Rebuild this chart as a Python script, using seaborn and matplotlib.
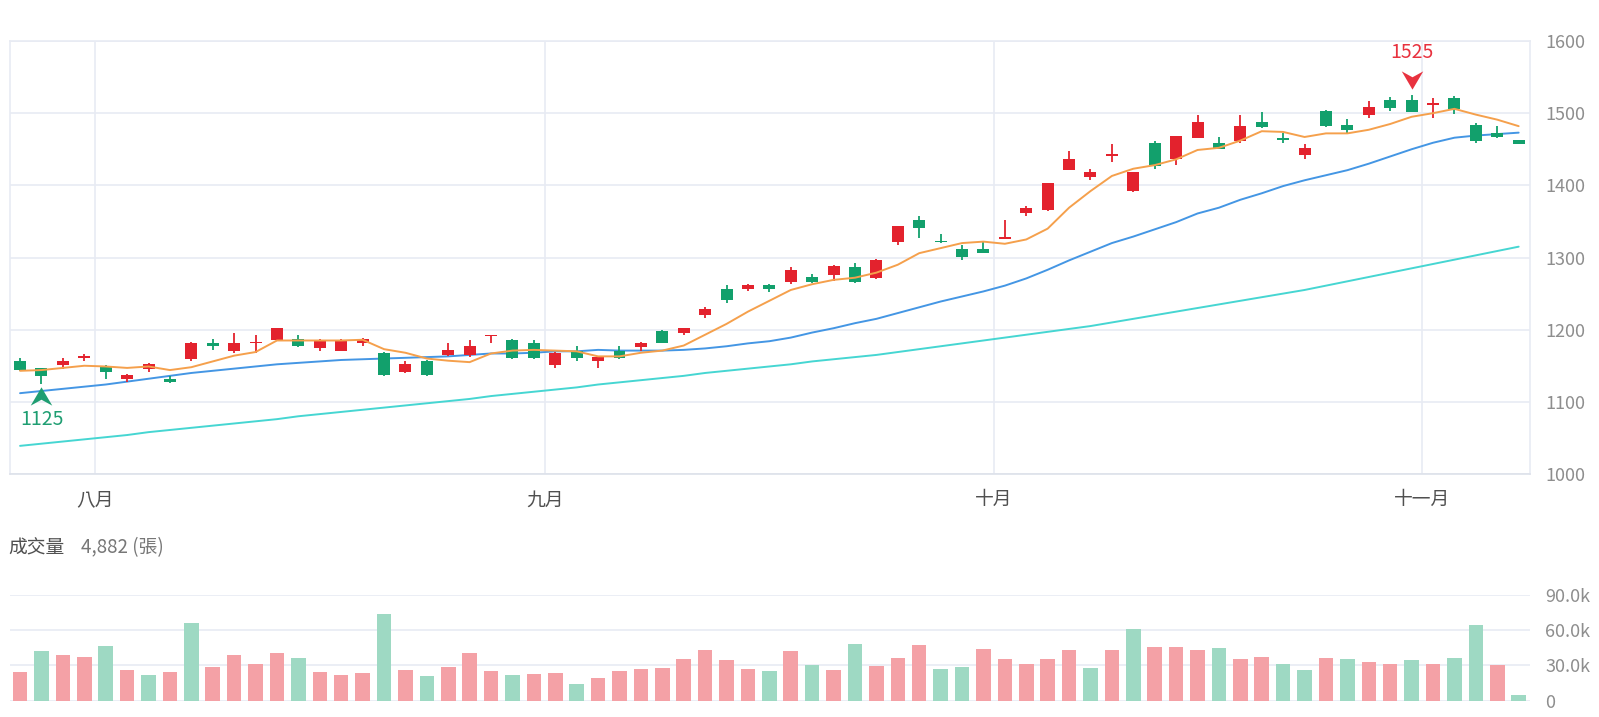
import numpy as np
import pandas as pd
import matplotlib
matplotlib.use('Agg')
import matplotlib.pyplot as plt
import matplotlib.transforms as mtransforms
from matplotlib.path import Path
import seaborn as sns

# daily candles, 71 sessions (late July -> early November)
opens = [1157, 1147, 1151, 1161, 1148, 1131, 1145, 1132, 1159, 1182, 1170, 1181, 1186, 1187, 1175, 1171,
         1181, 1168, 1141, 1157, 1165, 1165, 1191, 1186, 1182, 1151, 1171, 1156, 1171, 1176, 1198, 1196,
         1220, 1257, 1257, 1262, 1266, 1273, 1276, 1287, 1271, 1321, 1352, 1322, 1312, 1312, 1326, 1362,
         1366, 1421, 1411, 1441, 1392, 1458, 1436, 1466, 1458, 1462, 1488, 1465, 1442, 1503, 1483, 1497,
         1518, 1518, 1512, 1521, 1483, 1473, 1463]
highs = [1161, 1147, 1161, 1166, 1151, 1138, 1154, 1136, 1183, 1187, 1196, 1192, 1203, 1192, 1187, 1187,
         1188, 1169, 1156, 1158, 1182, 1186, 1193, 1187, 1186, 1169, 1177, 1163, 1177, 1183, 1199, 1203,
         1232, 1262, 1263, 1263, 1287, 1277, 1289, 1293, 1298, 1344, 1357, 1332, 1317, 1323, 1352, 1372,
         1403, 1448, 1422, 1457, 1419, 1462, 1469, 1497, 1467, 1497, 1502, 1472, 1457, 1504, 1492, 1517,
         1522, 1525, 1521, 1524, 1487, 1482, 1463]
lows = [1143, 1125, 1146, 1156, 1132, 1127, 1142, 1126, 1156, 1172, 1167, 1168, 1185, 1176, 1171, 1170,
        1177, 1136, 1140, 1136, 1163, 1162, 1182, 1160, 1160, 1147, 1156, 1147, 1160, 1171, 1181, 1192,
        1216, 1237, 1253, 1252, 1263, 1265, 1267, 1265, 1270, 1317, 1327, 1320, 1297, 1306, 1325, 1357,
        1365, 1421, 1407, 1432, 1391, 1422, 1428, 1465, 1450, 1458, 1480, 1458, 1437, 1481, 1472, 1493,
        1503, 1501, 1493, 1499, 1458, 1466, 1457]
closes = [1144, 1136, 1157, 1162, 1141, 1137, 1152, 1127, 1182, 1177, 1182, 1182, 1202, 1177, 1184, 1184,
          1187, 1137, 1153, 1137, 1172, 1178, 1192, 1161, 1161, 1168, 1161, 1162, 1161, 1182, 1182, 1202,
          1228, 1241, 1262, 1257, 1283, 1266, 1288, 1266, 1297, 1343, 1341, 1321, 1301, 1306, 1328, 1368,
          1403, 1437, 1418, 1443, 1418, 1427, 1468, 1488, 1451, 1482, 1481, 1463, 1452, 1482, 1476, 1508,
          1507, 1502, 1513, 1506, 1462, 1467, 1457]

# moving averages as drawn (5 / 20 / 60 day)
ma5 = [1143, 1144, 1147, 1150, 1149, 1147, 1149, 1144, 1148, 1156, 1164, 1169, 1185, 1185, 1185, 1185,
       1186, 1173, 1168, 1160, 1157, 1155, 1167, 1171, 1172, 1171, 1170, 1163, 1163, 1168, 1171, 1178,
       1193, 1208, 1225, 1240, 1255, 1263, 1269, 1272, 1279, 1290, 1306, 1313, 1320, 1322, 1319, 1325,
       1340, 1369, 1392, 1413, 1423, 1428, 1436, 1449, 1452, 1462, 1475, 1474, 1467, 1472, 1472, 1477,
       1485, 1495, 1500, 1506, 1498, 1491, 1482]
ma20 = [1112, 1115, 1118, 1121, 1124, 1128, 1132, 1136, 1140, 1143, 1146, 1149, 1152, 1154, 1156, 1158,
        1159, 1160, 1161, 1162, 1163, 1165, 1167, 1167, 1168, 1170, 1170, 1172, 1171, 1171, 1171, 1172,
        1174, 1177, 1181, 1184, 1189, 1196, 1202, 1209, 1215, 1223, 1231, 1239, 1246, 1253, 1261, 1271,
        1283, 1296, 1308, 1320, 1329, 1339, 1349, 1361, 1369, 1380, 1389, 1399, 1407, 1414, 1421, 1430,
        1440, 1450, 1459, 1466, 1469, 1471, 1473]
ma60 = [1039, 1042, 1045, 1048, 1051, 1054, 1058, 1061, 1064, 1067, 1070, 1073, 1076, 1080, 1083, 1086,
        1089, 1092, 1095, 1098, 1101, 1104, 1108, 1111, 1114, 1117, 1120, 1124, 1127, 1130, 1133, 1136,
        1140, 1143, 1146, 1149, 1152, 1156, 1159, 1162, 1165, 1169, 1173, 1177, 1181, 1185, 1189, 1193,
        1197, 1201, 1205, 1210, 1215, 1220, 1225, 1230, 1235, 1240, 1245, 1250, 1255, 1261, 1267, 1273,
        1279, 1285, 1291, 1297, 1303, 1309, 1315]

# volume (張) and its colour direction vs previous close
volume = [23800, 42300, 38300, 36600, 46000, 26100, 21300, 24400, 65900, 28100, 38300, 31000, 40300, 36000,
          24100, 21900, 23300, 73800, 25800, 21000, 28100, 40000, 24700, 21900, 22400, 23500, 14000, 19000,
          25000, 27000, 28000, 35000, 42600, 34000, 27000, 25000, 41700, 30400, 26000, 48000, 29500, 36500,
          47000, 27000, 28700, 44000, 35600, 31300, 34900, 42900, 28000, 42900, 60600, 45100, 45700, 42900,
          44300, 35100, 37100, 30600, 26300, 36300, 35100, 32900, 30600, 34000, 30900, 36300, 63700, 30300,
          4882]
vol_dir = list('umuumumumuuuumuuumumuuumu'
               'umuuuuuuuumumumuuummuuu'
               'uumumuuumuummumuumummum')

month_labels = ['八月', '九月', '十月', '十一月']
month_first_idx = [4, 25, 46, 66]

RED, GREEN = '#e3222d', '#12a06c'
PINK, MINT = '#f4a1a6', '#9ed9c3'
GRID = '#e8ebf3'
TXT = '#8e8e8e'

sns.set_theme(style='white')
plt.rcParams['font.family'] = ['Noto Sans CJK TC', 'DejaVu Sans']

W, H = 1599, 717
fig = plt.figure(figsize=(W / 100, H / 100), dpi=100)
ax = fig.add_axes([10 / W, 1 - 474 / H, 1520 / W, 433 / H])
axv = fig.add_axes([10 / W, 1 - 700.5 / H, 1520 / W, 106 / H])

df = pd.DataFrame({'idx': np.arange(len(closes)), 'open': opens, 'high': highs,
                   'low': lows, 'close': closes, 'ma5': ma5, 'ma20': ma20, 'ma60': ma60,
                   'volume': volume, 'dir': vol_dir})
up = df['close'] >= df['open']
cols = np.where(up, RED, GREEN)

# candles
ax.vlines(df['idx'], df['low'], df['high'], colors=cols, lw=1.3, zorder=3)
body_lo = df[['open', 'close']].min(axis=1)
body_h = (df['close'] - df['open']).abs().clip(lower=2.2)
ax.bar(df['idx'], body_h, bottom=body_lo, width=0.56, color=cols, linewidth=0, zorder=4)

# moving averages
sns.lineplot(data=df, x='idx', y='ma60', ax=ax, color='#46d6d2', lw=1.4, zorder=2)
sns.lineplot(data=df, x='idx', y='ma20', ax=ax, color='#4496e4', lw=1.4, zorder=2)
sns.lineplot(data=df, x='idx', y='ma5', ax=ax, color='#f5a04c', lw=1.4, zorder=5)

# high / low markers
down_arrow = Path([(-1, 0.85), (0, -0.85), (1, 0.85), (0, 0.3), (-1, 0.85)],
                  [Path.MOVETO, Path.LINETO, Path.LINETO, Path.LINETO, Path.CLOSEPOLY])
up_arrow = Path([(-1, -0.85), (0, 0.85), (1, -0.85), (0, -0.3), (-1, -0.85)],
                [Path.MOVETO, Path.LINETO, Path.LINETO, Path.LINETO, Path.CLOSEPOLY])
hi = int(np.argmax(highs))
lo = int(np.argmin(lows))
ax.plot(hi, highs[hi], marker=down_arrow, ms=15.5, color='#e8323f', mew=0, zorder=6,
        transform=mtransforms.offset_copy(ax.transData, fig=fig, x=0, y=15, units='dots'))
ax.annotate(f'{highs[hi]}', (hi, highs[hi]), xytext=(0, 30.5), textcoords='offset points',
            ha='center', va='center', fontsize=14, color='#e8323f')
ax.plot(lo, lows[lo], marker=up_arrow, ms=15.5, color='#1f9e72', mew=0, zorder=6,
        transform=mtransforms.offset_copy(ax.transData, fig=fig, x=0, y=-12, units='dots'))
ax.annotate(f'{lows[lo]}', (lo, lows[lo]), xytext=(0, -25.5), textcoords='offset points',
            ha='center', va='center', fontsize=14, color='#1f9e72')

xlim = (-0.47, 70.53)
ax.set_xlim(*xlim)
ax.set_ylim(1000, 1600)
ax.set_yticks(range(1000, 1601, 100))
ax.set_xticks([i - 0.5 for i in month_first_idx])
ax.set_xticklabels(month_labels)
ax.yaxis.tick_right()
ax.tick_params(axis='y', length=0, pad=11, labelsize=13, labelcolor=TXT)
ax.tick_params(axis='x', length=0, pad=11, labelsize=13.5, labelcolor='#505050')
ax.grid(True, color=GRID, lw=1.2)
ax.set_axisbelow(True)
ax.set_xlabel('')
ax.set_ylabel('')
for side, sp in ax.spines.items():
    sp.set_color(GRID)
    sp.set_linewidth(1.2)
ax.spines['bottom'].set_color('#dde1ea')

# volume panel
sns.barplot(data=df, x='idx', y='volume', hue='dir', palette={'u': PINK, 'm': MINT},
            dodge=False, native_scale=True, width=0.68, saturation=1, legend=False,
            linewidth=0, ax=axv)
axv.set_xlim(*xlim)
axv.set_ylim(0, 90000)
axv.set_yticks([0, 30000, 60000, 90000])
axv.set_yticklabels(['0', '30.0k', '60.0k', '90.0k'])
axv.yaxis.tick_right()
axv.tick_params(axis='y', length=0, pad=11, labelsize=13, labelcolor=TXT)
axv.set_xticks([])
axv.grid(True, axis='y', color=GRID, lw=1.2)
axv.set_axisbelow(True)
axv.set_xlabel('')
axv.set_ylabel('')
for sp in axv.spines.values():
    sp.set_visible(False)

fig.text(8 / W, 1 - 548 / H, '成交量', fontsize=13.5, color='#505050', va='center')
fig.text(81 / W, 1 - 548 / H, f'{volume[-1]:,} (張)', fontsize=13.5, color='#777777', va='center')

fig.savefig('out.png', dpi=100)
